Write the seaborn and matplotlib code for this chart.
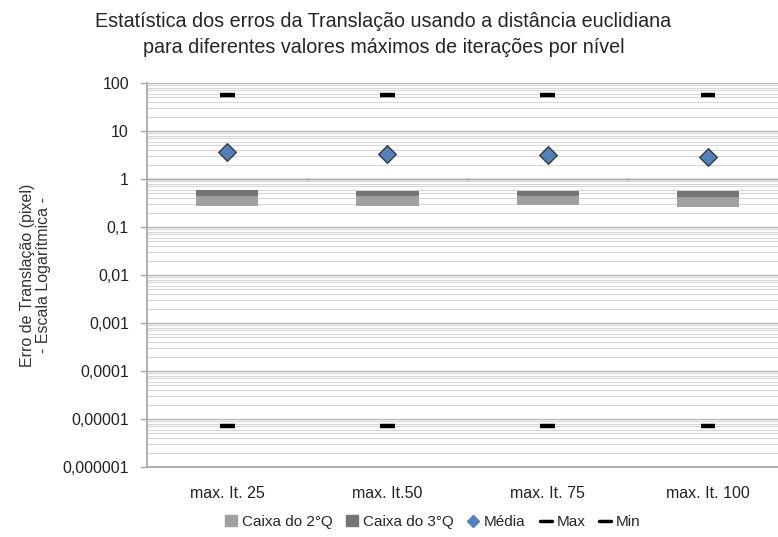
import numpy as np
import pandas as pd
import matplotlib
matplotlib.use("Agg")
import matplotlib.pyplot as plt
from matplotlib.ticker import FixedLocator, LogLocator, NullFormatter
from matplotlib.lines import Line2D
from matplotlib.patches import Patch
import seaborn as sns

categories = ["max. It. 25", "max. It.50", "max. It. 75", "max. It. 100"]
q1 = [0.27, 0.27, 0.29, 0.265]
median = [0.44, 0.44, 0.44, 0.415]
q3 = [0.59, 0.57, 0.57, 0.57]
mean = [3.7, 3.32, 3.16, 2.83]
vmax = [56.0, 56.0, 56.0, 56.0]
vmin = [7.1e-6, 7.1e-6, 7.1e-6, 7.1e-6]
ytick_vals = [1e-6, 1e-5, 1e-4, 1e-3, 1e-2, 1e-1, 1, 10, 100]
ytick_labels = ["0,000001", "0,00001", "0,0001", "0,001", "0,01", "0,1", "1", "10", "100"]

sns.set_theme(style="white")
plt.rcParams["font.family"] = ["Liberation Sans", "DejaVu Sans"]

df = pd.DataFrame({"cat": categories, "q1": q1, "median": median, "q3": q3,
                   "mean": mean, "max": vmax, "min": vmin})
df["x"] = np.arange(len(df))

fig = plt.figure(figsize=(7.78, 5.37), dpi=100)
ax = fig.add_axes([147/778, 1-467/537, 1-147/778, (467-83)/537])
ax.set_yscale("log")
ax.set_ylim(1e-6, 100)
ax.set_xlim(-0.5, 3.436)

# gridlines
ax.yaxis.set_major_locator(FixedLocator(ytick_vals))
ax.yaxis.set_minor_locator(LogLocator(base=10, subs=np.arange(2, 10)))
ax.yaxis.set_minor_formatter(NullFormatter())
ax.grid(True, which="major", axis="y", color="#b8b8b8", linewidth=1.0)
ax.grid(True, which="minor", axis="y", color="#d6d6d6", linewidth=0.8)
ax.set_axisbelow(True)

light = "#a0a0a0"
dark = "#747474"
bw = 0.39
ax.bar(df["x"], df["median"] - df["q1"], bottom=df["q1"], width=bw, color=light,
       linewidth=0, edgecolor="none", zorder=3)
ax.bar(df["x"], df["q3"] - df["median"], bottom=df["median"], width=bw, color=dark,
       linewidth=0, edgecolor="none", zorder=3)

sns.scatterplot(data=df, x="x", y="mean", marker="D", s=80, color="#4f81bd",
                edgecolor="#3a3a3a", linewidth=1.0, ax=ax, zorder=5, legend=False)
for col in ["max", "min"]:
    ax.errorbar(df["x"], df[col], xerr=0.046, fmt="none", ecolor="black",
                elinewidth=3.2, capsize=0, zorder=5)

# category axis crossing at 1
ax.axhline(1, color="#a6a6a6", linewidth=1.0, zorder=2)
for b in df["x"][:-1] + 0.5:
    ax.plot([b, b], [0.94, 1.07], color="#a6a6a6", linewidth=1.0, zorder=2)

ax.set_xticks(df["x"])
ax.set_xticklabels(categories, fontsize=11.5, color="#222222")
ax.set_yticks(ytick_vals)
ax.set_yticklabels(ytick_labels, fontsize=11.5, color="#222222")
ax.tick_params(axis="x", length=0, pad=14)
ax.tick_params(axis="y", which="major", length=5, width=1, color="#a6a6a6", left=True, pad=8)
ax.tick_params(axis="y", which="minor", length=0)
for s in ["top", "right"]:
    ax.spines[s].set_visible(False)
ax.spines["left"].set_color("#a6a6a6")
ax.spines["bottom"].set_color("#a6a6a6")
ax.set_xlabel("")
ax.set_ylabel("Erro de Translação (pixel)\n- Escala Logarítmica -", fontsize=11.5,
              color="#333333", labelpad=8, linespacing=1.1)

fig.suptitle("Estatística dos erros da Translação usando a distância euclidiana\n"
             "para diferentes valores máximos de iterações por nível",
             fontsize=14.2, y=0.978, x=0.493, linespacing=1.5)

handles = [Patch(color=light, label="Caixa do 2°Q"),
           Patch(color=dark, label="Caixa do 3°Q"),
           Line2D([], [], marker="D", color="#4f81bd", linestyle="none", markersize=6, label="Média"),
           Line2D([], [], color="black", linewidth=2.5, label="Max"),
           Line2D([], [], color="black", linewidth=2.5, label="Min")]
fig.legend(handles=handles, loc="center", bbox_to_anchor=(0.556, 1-522/537), ncol=5,
           frameon=False, fontsize=11, handlelength=0.8, handletextpad=0.3,
           columnspacing=0.9)

fig.savefig("out.png", dpi=100)
